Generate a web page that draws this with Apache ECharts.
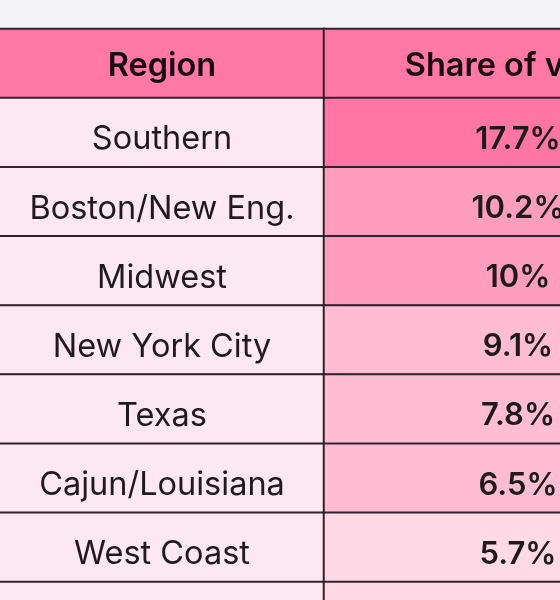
<!DOCTYPE html>
<html><head><meta charset="utf-8">
<style>html,body{margin:0;padding:0;background:#f3f3f8;overflow:hidden}#c{width:560px;height:600px;filter:blur(0.6px)}</style>
<script src="https://cdn.jsdelivr.net/npm/echarts@6/dist/echarts.min.js"></script>
</head><body><div id="c"></div>
<script>
const headers = ['Region', 'Share of votes'];
const regions = ['Southern', 'Boston/New Eng.', 'Midwest', 'New York City', 'Texas', 'Cajun/Louisiana', 'West Coast', ''];
const shares = [17.7, 10.2, 10, 9.1, 7.8, 6.5, 5.7, 5];

const FONT = 'Inter';
const LINE = '#33222b';
const HEADER_BG = '#ff78a6';
const REGION_BG = '#fde8f2';
function shareColor(v) {
  if (v >= 15) return '#ff75a4';
  if (v >= 9.5) return '#ff9dbe';
  if (v >= 6) return '#ffbcd2';
  return '#ffd9e6';
}
const rowKeys = ['header'].concat(regions.map((r, i) => 'row' + i));
function cells(colHeader, rows, weight, size, dx) {
  const head = {value: [0, 0, 1],
    label: {show: true, color: '#1a0a12', fontFamily: FONT, fontWeight: 600, fontSize: 32.5, offset: [dx, 3], formatter: colHeader},
    itemStyle: {color: HEADER_BG}};
  return [head].concat(rows.map((r, i) => ({
    value: [0, i + 1, 1],
    label: {show: true, color: '#1f1a1d', fontFamily: FONT, fontWeight: weight, fontSize: size, offset: [dx, 7], formatter: r.text},
    itemStyle: {color: r.color}
  })));
}
const regionRows = regions.map(r => ({text: r, color: REGION_BG}));
const shareRows = shares.map((v, i) => ({text: regions[i] ? v + '%' : '', color: shareColor(v)}));
const chart = echarts.init(document.getElementById('c'), null, {renderer: 'canvas'});
const yAxisBase = {type: 'category', data: rowKeys, inverse: true, show: false};
const xAxisBase = {type: 'category', data: ['col'], show: false};
chart.setOption({
  animation: false,
  backgroundColor: '#f3f3f8',
  grid: [
    {left: -4, top: 29, width: 328, height: 622, outerBoundsMode: 'none'},
    {left: 324, top: 29, width: 388, height: 622, outerBoundsMode: 'none'}
  ],
  xAxis: [{...xAxisBase, gridIndex: 0}, {...xAxisBase, gridIndex: 1}],
  yAxis: [{...yAxisBase, gridIndex: 0}, {...yAxisBase, gridIndex: 1}],
  series: [
    {type: 'heatmap', xAxisIndex: 0, yAxisIndex: 0, data: cells(headers[0], regionRows, 400, 32.5, 2),
     itemStyle: {borderColor: LINE, borderWidth: 2}, emphasis: {disabled: true}},
    {type: 'heatmap', xAxisIndex: 1, yAxisIndex: 1, data: cells(headers[1], shareRows, 600, 31, 0),
     itemStyle: {borderColor: LINE, borderWidth: 2}, emphasis: {disabled: true}}
  ]
});
</script></body></html>
